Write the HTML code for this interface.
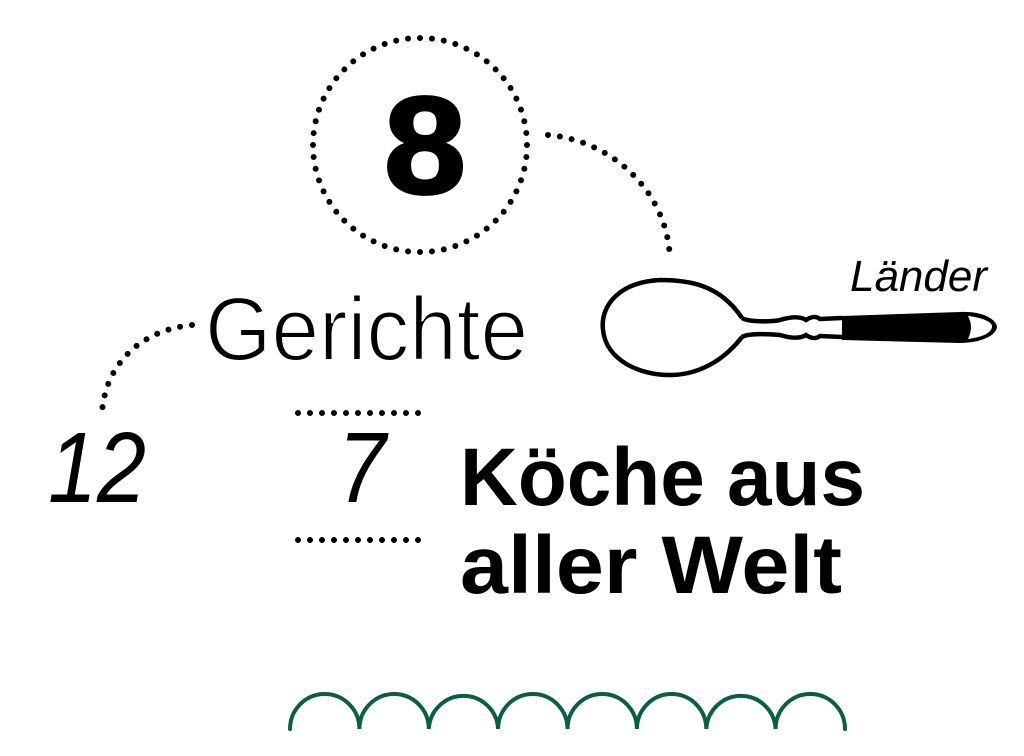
<!DOCTYPE html>
<html><head><meta charset="utf-8"><style>html,body{margin:0;padding:0;background:#fff}svg{display:block}</style></head>
<body>
<svg width="1024" height="756" viewBox="0 0 1024 756" xmlns="http://www.w3.org/2000/svg">
<g fill="none" stroke="#000" stroke-width="6" stroke-linecap="round" stroke-dasharray="0 12">
<circle cx="420" cy="145" r="107"/>
<path d="M548 135 C610 140 668 190 670 260"/>
<path d="M192 325 C140 330 105 365 102 413"/>
<path d="M298 413 H420"/>
<path d="M298 540 H420"/>
</g>
<g font-family="Liberation Sans, sans-serif" fill="#000">
<text x="384" y="193" font-size="138" font-weight="bold" textLength="82" lengthAdjust="spacingAndGlyphs" stroke="#000" stroke-width="3">8</text>
<text x="205" y="360" font-size="90" stroke="#fff" stroke-width="2" textLength="323" lengthAdjust="spacingAndGlyphs">Gerichte</text>
<text x="48" y="502" font-size="100" font-style="italic" textLength="98" lengthAdjust="spacingAndGlyphs">12</text>
<text x="338" y="502" font-size="100" font-style="italic" textLength="48" lengthAdjust="spacingAndGlyphs">7</text>
<text x="460" y="505" font-size="82" font-weight="bold" textLength="405" lengthAdjust="spacingAndGlyphs">Köche aus</text>
<text x="460" y="593" font-size="82" font-weight="bold" textLength="382" lengthAdjust="spacingAndGlyphs">aller Welt</text>
<text x="850" y="291" font-size="44" font-style="italic" textLength="137" lengthAdjust="spacingAndGlyphs">Länder</text>
</g>
<g stroke="#000" stroke-width="4.5" fill="none">
<path d="M742 318 C720 285 690 280 660 280 C620 282 600 305 603 330 C606 360 640 376 672 375 C705 374 728 355 742 337"/>
<path d="M742 318 C748 322 770 322 780 320 C790 317 800 316 806 320 C812 316 816 316 820 319 L842 318"/>
<path d="M742 337 C748 333 770 334 780 335 C790 338 800 339 806 335 C812 339 816 339 820 336 L842 337"/>
</g>
<path d="M842 316 L960 312 C980 311 996 318 997 327 C996 336 980 343 960 343 L842 340 Z" fill="#000"/>
<path d="M968 316 C985 318 993 323 992 327 C991 333 983 337 968 339 C972 330 972 324 968 316Z" fill="#fff"/>
<path d="M290 729 A34.7 35 0 0 1 359.4 729 A34.7 35 0 0 1 428.8 729 A34.7 35 0 0 1 498.1 729 A34.7 35 0 0 1 567.5 729 A34.7 35 0 0 1 636.9 729 A34.7 35 0 0 1 706.3 729 A34.7 35 0 0 1 775.6 729 A34.7 35 0 0 1 845 729" fill="none" stroke="#0a5e45" stroke-width="4" stroke-linecap="round"/>
</svg>
</body></html>
